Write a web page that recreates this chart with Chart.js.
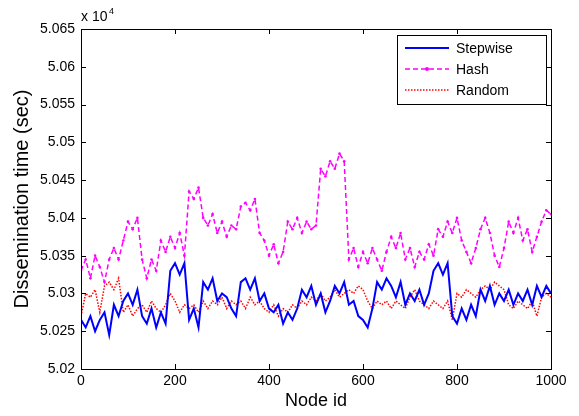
<!DOCTYPE html>
<html>
<head>
<meta charset="utf-8">
<script src="https://cdn.jsdelivr.net/npm/chart.js@4"></script>
<style>
  html, body { margin: 0; padding: 0; background: #fff; }
  canvas { display: block; }
</style>
</head>
<body>
<canvas id="mainChart" width="579" height="416"></canvas>
<script>
// node ids sampled every 10
const nodeIds = [];
for (let n = 0; n <= 1000; n += 10) nodeIds.push(n);

// dissemination time (sec)
const stepwise = [
  50265, 50255, 50270, 50250, 50265, 50275, 50245, 50285, 50270, 50290,
  50300, 50285, 50305, 50270, 50260, 50280, 50255, 50275, 50260, 50330,
  50340, 50325, 50340, 50265, 50280, 50255, 50315, 50305, 50320, 50290,
  50300, 50295, 50280, 50270, 50315, 50320, 50305, 50320, 50290, 50300,
  50280, 50275, 50285, 50260, 50275, 50265, 50280, 50305, 50295, 50310,
  50285, 50300, 50275, 50290, 50310, 50300, 50315, 50285, 50290, 50270,
  50265, 50255, 50280, 50315, 50305, 50320, 50310, 50295, 50315, 50285,
  50300, 50290, 50305, 50285, 50300, 50330, 50340, 50325, 50340, 50270,
  50260, 50280, 50265, 50285, 50270, 50305, 50290, 50310, 50285, 50300,
  50290, 50305, 50285, 50300, 50290, 50305, 50285, 50310, 50295, 50310,
  50300
];
const hash = [
  50330, 50345, 50320, 50350, 50335, 50315, 50345, 50360, 50345, 50370,
  50395, 50385, 50400, 50345, 50320, 50345, 50330, 50370, 50355, 50375,
  50360, 50380, 50350, 50435, 50425, 50440, 50400, 50390, 50405, 50380,
  50395, 50375, 50390, 50385, 50415, 50420, 50410, 50425, 50380, 50370,
  50350, 50365, 50340, 50355, 50395, 50385, 50400, 50380, 50395, 50385,
  50390, 50465, 50455, 50475, 50465, 50485, 50475, 50345, 50360, 50335,
  50355, 50340, 50360, 50345, 50330, 50355, 50375, 50360, 50380, 50345,
  50360, 50335, 50355, 50345, 50365, 50350, 50385, 50375, 50395, 50380,
  50400, 50370, 50355, 50340, 50360, 50385, 50400, 50380, 50350, 50335,
  50360, 50395, 50380, 50400, 50370, 50385, 50355, 50375, 50395, 50410,
  50405
];
const random = [
  50270, 50300, 50295, 50305, 50275, 50310, 50315, 50305, 50320, 50275,
  50285, 50270, 50280, 50285, 50275, 50290, 50280, 50275, 50285, 50300,
  50290, 50275, 50285, 50280, 50285, 50275, 50290, 50280, 50290, 50285,
  50295, 50280, 50290, 50285, 50290, 50280, 50295, 50285, 50290, 50280,
  50275, 50285, 50270, 50280, 50275, 50285, 50280, 50290, 50285, 50295,
  50290, 50300, 50290, 50295, 50305, 50295, 50300, 50305, 50300, 50310,
  50305, 50290, 50280, 50290, 50285, 50290, 50280, 50290, 50285, 50280,
  50295, 50305, 50290, 50285, 50280, 50290, 50285, 50280, 50290, 50265,
  50300, 50295, 50305, 50300, 50295, 50305, 50310, 50305, 50315, 50310,
  50305, 50285, 50280, 50290, 50285, 50280, 50290, 50270, 50295, 50300,
  50295
];

const xTicks = [0, 200, 400, 600, 800, 1000];
const yTickLabels = ['5.02', '5.025', '5.03', '5.035', '5.04', '5.045', '5.05', '5.055', '5.06', '5.065'];

const font = 'Arial, "Liberation Sans", sans-serif';

function pts(vals) {
  return nodeIds.map((n, i) => ({ x: n, y: vals[i] }));
}

// box with inward ticks, exponent label, legend
const matlabFrame = {
  id: 'matlabFrame',
  afterDraw(chart) {
    const { ctx, chartArea: a, scales } = chart;
    ctx.save();
    ctx.strokeStyle = '#000';
    ctx.lineWidth = 1;
    ctx.strokeRect(a.left + 0.5, a.top + 0.5, a.right - a.left, a.bottom - a.top);
    ctx.beginPath();
    xTicks.forEach(v => {
      const x = Math.round(scales.x.getPixelForValue(v)) + 0.5;
      ctx.moveTo(x, a.bottom); ctx.lineTo(x, a.bottom - 5);
      ctx.moveTo(x, a.top); ctx.lineTo(x, a.top + 5);
    });
    yTickLabels.forEach(l => {
      const y = Math.round(scales.y.getPixelForValue(parseFloat(l) * 1e4)) + 0.5;
      ctx.moveTo(a.left, y); ctx.lineTo(a.left + 5, y);
      ctx.moveTo(a.right, y); ctx.lineTo(a.right - 5, y);
    });
    ctx.stroke();

    // x 10^4
    ctx.fillStyle = '#000';
    ctx.font = '14px ' + font;
    ctx.textBaseline = 'alphabetic';
    ctx.fillText('x 10', a.left, a.top - 8);
    ctx.font = '9px ' + font;
    ctx.fillText('4', a.left + 28, a.top - 15);

    // legend
    const lx = 397, ly = 35, lw = 149, lh = 69;
    ctx.fillStyle = '#fff';
    ctx.fillRect(lx, ly, lw, lh);
    ctx.strokeRect(lx + 0.5, ly + 0.5, lw, lh);
    chart.data.datasets.forEach((ds, i) => {
      const y = ly + 13 + i * 21;
      ctx.save();
      ctx.strokeStyle = ds.borderColor;
      ctx.lineWidth = ds.borderWidth;
      ctx.setLineDash(ds.borderDash || []);
      ctx.beginPath();
      ctx.moveTo(405, y); ctx.lineTo(449, y);
      ctx.stroke();
      if (ds.pointRadius > 0) {
        ctx.fillStyle = ds.borderColor;
        ctx.beginPath();
        ctx.arc(427, y, 2, 0, Math.PI * 2);
        ctx.fill();
      }
      ctx.restore();
      ctx.fillStyle = '#000';
      ctx.font = '14px ' + font;
      ctx.textBaseline = 'middle';
      ctx.fillText(ds.label, 456, y + 1);
    });
    ctx.restore();
  }
};

new Chart(document.getElementById('mainChart').getContext('2d'), {
  type: 'line',
  data: {
    datasets: [
      {
        label: 'Stepwise',
        data: pts(stepwise),
        borderColor: '#0000ff',
        borderWidth: 2,
        pointRadius: 0
      },
      {
        label: 'Hash',
        data: pts(hash),
        borderColor: '#ff00ff',
        backgroundColor: '#ff00ff',
        borderWidth: 1.5,
        borderDash: [5, 3],
        pointRadius: 1.3,
        pointBorderWidth: 0
      },
      {
        label: 'Random',
        data: pts(random),
        borderColor: '#ff0000',
        borderWidth: 1.5,
        borderDash: [1.5, 1.5],
        pointRadius: 0
      }
    ]
  },
  options: {
    responsive: false,
    animation: false,
    events: [],
    layout: { padding: { top: 29, right: 28, left: 0, bottom: 0 } },
    plugins: { legend: { display: false }, tooltip: { enabled: false } },
    scales: {
      x: {
        type: 'linear',
        min: 0,
        max: 1000,
        afterBuildTicks: s => { s.ticks = xTicks.map(v => ({ value: v })); },
        grid: { display: false, drawTicks: false },
        border: { display: false },
        ticks: {
          color: '#000',
          font: { family: font, size: 14 },
          padding: 4,
          maxRotation: 0,
          callback: v => String(v)
        },
        title: { display: true, text: 'Node id', color: '#000', font: { family: font, size: 18 }, padding: { top: 0 } },
        afterFit: s => { s.height = 47; }
      },
      y: {
        min: 50200,
        max: 50650,
        afterBuildTicks: s => { s.ticks = yTickLabels.map(l => ({ value: parseFloat(l) * 1e4 })); },
        grid: { display: false, drawTicks: false },
        border: { display: false },
        ticks: {
          color: '#000',
          font: { family: font, size: 14 },
          padding: 6,
          callback: (v, i) => yTickLabels[i]
        },
        title: { display: true, text: 'Dissemination time (sec)', color: '#000', font: { family: font, size: 20 }, padding: { top: 10, bottom: 0 } },
        afterFit: s => { s.width = 81; }
      }
    }
  },
  plugins: [matlabFrame]
});
</script>
</body>
</html>
